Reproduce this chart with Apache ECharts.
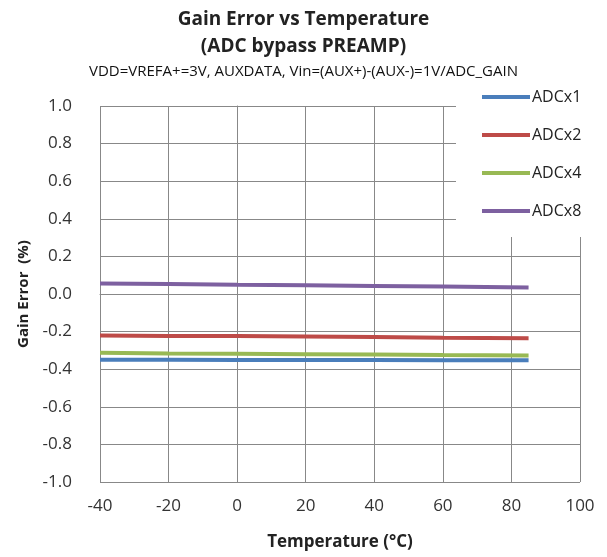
<!DOCTYPE html>
<html>
<head>
<meta charset="utf-8">
<script src="https://cdn.jsdelivr.net/npm/echarts@6/dist/echarts.min.js"></script>
<style>
  html, body { margin: 0; padding: 0; background: #fff; }
  #chart { width: 607px; height: 557px; }
</style>
</head>
<body>
<div id="chart"></div>
<script>
// temperature points (°C)
const temps = [-40, -20, 0, 20, 40, 60, 85];

// gain error (%) per gain setting
const adcx1 = [-0.350, -0.350, -0.351, -0.351, -0.351, -0.352, -0.352];
const adcx2 = [-0.221, -0.223, -0.224, -0.226, -0.229, -0.233, -0.235];
const adcx4 = [-0.313, -0.316, -0.318, -0.320, -0.322, -0.325, -0.327];
const adcx8 = [0.056, 0.053, 0.049, 0.046, 0.043, 0.040, 0.035];

const seriesNames = ['ADCx1', 'ADCx2', 'ADCx4', 'ADCx8'];
const seriesColors = ['#4a7ebb', '#be4b48', '#98b954', '#7d60a0'];
const seriesData = [adcx1, adcx2, adcx4, adcx8];

const chart = echarts.init(document.getElementById('chart'));
const font = '"Open Sans", "Liberation Sans", sans-serif';

const option = {
    backgroundColor: '#fff',
    animation: false,
    textStyle: { fontFamily: font },
    title: [
        {
            text: 'Gain Error vs Temperature\n(ADC bypass PREAMP)',
            left: 'center',
            top: 1,
            textStyle: { fontSize: 19, fontWeight: 'bold', color: '#222', lineHeight: 27, fontFamily: font }
        },
        {
            text: 'VDD=VREFA+=3V, AUXDATA, Vin=(AUX+)-(AUX-)=1V/ADC_GAIN',
            left: 'center',
            top: 58,
            textStyle: { fontSize: 15, fontWeight: 'normal', color: '#111', lineHeight: 18, fontFamily: font }
        }
    ],
    legend: {
        orient: 'vertical',
        left: 456,
        top: 78,
        itemGap: 20,
        itemWidth: 48,
        itemHeight: 4,
        icon: 'rect',
        backgroundColor: '#fff',
        padding: [10, 20, 17, 26],
        textStyle: { fontSize: 16, lineHeight: 18, color: '#222', padding: [0, 0, 0, -3] },
        data: seriesNames
    },
    grid: { left: 100, right: 27, top: 106, bottom: 75 },
    xAxis: {
        type: 'value',
        min: -40,
        max: 100,
        interval: 20,
        name: 'Temperature (°C)',
        nameLocation: 'middle',
        nameGap: 52,
        nameTextStyle: { fontSize: 17, fontWeight: 'bold', color: '#222' },
        axisLine: { lineStyle: { color: '#888' } },
        axisTick: { show: true, length: 5, lineStyle: { color: '#888' } },
        axisLabel: { fontSize: 17, color: '#333', margin: 16 },
        splitLine: { show: true, lineStyle: { color: '#888', width: 1 } }
    },
    yAxis: {
        type: 'value',
        min: -1,
        max: 1,
        interval: 0.2,
        name: 'Gain Error  (%)',
        nameLocation: 'middle',
        nameGap: 69,
        nameTextStyle: { fontSize: 15, fontWeight: 'bold', color: '#222' },
        axisLine: { show: true, lineStyle: { color: '#888' } },
        axisTick: { show: true, length: 5, lineStyle: { color: '#888' } },
        axisLabel: {
            fontSize: 17,
            color: '#333',
            margin: 28,
            formatter: v => v.toFixed(1)
        },
        splitLine: { show: true, lineStyle: { color: '#888', width: 1 } }
    },
    series: seriesNames.map((name, i) => ({
        name: name,
        type: 'line',
        data: temps.map((t, j) => [t, seriesData[i][j]]),
        showSymbol: false,
        symbol: 'none',
        color: seriesColors[i],
        lineStyle: { width: 4, color: seriesColors[i] },
        z: 2 + i
    }))
};

chart.setOption(option);
</script>
</body>
</html>
